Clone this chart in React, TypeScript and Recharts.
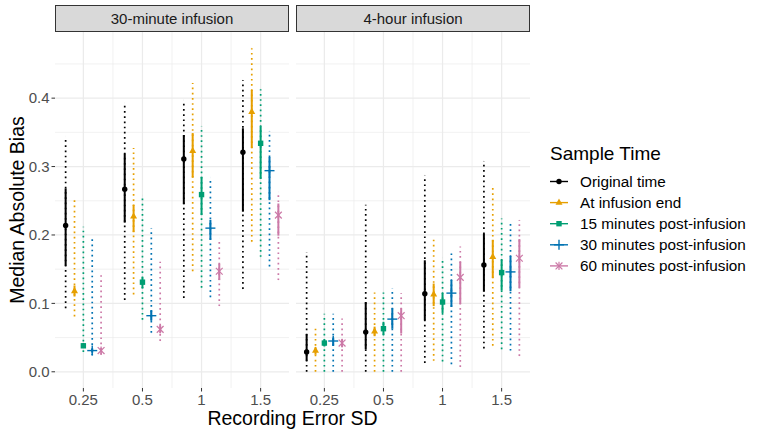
import { ComposedChart, Scatter, ErrorBar, XAxis, YAxis, CartesianGrid } from "recharts";

const sdLabels = ["0.25", "0.5", "1", "1.5"];
const panelTitles = ["30-minute infusion", "4-hour infusion"];
const seriesNames = [
  "Original time",
  "At infusion end",
  "15 minutes post-infusion",
  "30 minutes post-infusion",
  "60 minutes post-infusion",
];
const colors = ["#000000", "#E69F00", "#009E73", "#0072B2", "#CC79A7"];

// 30-minute infusion
const shortMedian = [
  [0.214, 0.267, 0.311, 0.321],
  [0.118, 0.227, 0.323, 0.38],
  [0.038, 0.131, 0.259, 0.334],
  [0.031, 0.082, 0.21, 0.294],
  [0.031, 0.062, 0.147, 0.229],
];
const shortInnerLow = [
  [0.155, 0.218, 0.245, 0.234],
  [0.11, 0.204, 0.284, 0.327],
  [0.035, 0.122, 0.229, 0.282],
  [0.028, 0.075, 0.193, 0.251],
  [0.028, 0.057, 0.134, 0.199],
];
const shortInnerHigh = [
  [0.268, 0.319, 0.346, 0.356],
  [0.126, 0.244, 0.349, 0.412],
  [0.042, 0.138, 0.285, 0.359],
  [0.034, 0.09, 0.222, 0.314],
  [0.034, 0.068, 0.158, 0.246],
];
const shortOuterLow = [
  [0.093, 0.105, 0.108, 0.121],
  [0.081, 0.113, 0.147, 0.19],
  [0.029, 0.076, 0.123, 0.168],
  [0.024, 0.057, 0.109, 0.154],
  [0.025, 0.045, 0.096, 0.134],
];
const shortOuterHigh = [
  [0.344, 0.393, 0.397, 0.426],
  [0.251, 0.327, 0.422, 0.473],
  [0.212, 0.258, 0.359, 0.413],
  [0.194, 0.21, 0.284, 0.352],
  [0.141, 0.161, 0.195, 0.263],
];

// 4-hour infusion
const longMedian = [
  [0.029, 0.058, 0.114, 0.156],
  [0.031, 0.059, 0.113, 0.168],
  [0.042, 0.063, 0.102, 0.145],
  [0.045, 0.077, 0.115, 0.146],
  [0.042, 0.082, 0.138, 0.166],
];
const longInnerLow = [
  [0.016, 0.033, 0.075, 0.117],
  [0.025, 0.052, 0.096, 0.137],
  [0.037, 0.054, 0.086, 0.119],
  [0.038, 0.063, 0.095, 0.118],
  [0.036, 0.056, 0.099, 0.123],
];
const longInnerHigh = [
  [0.055, 0.102, 0.163, 0.202],
  [0.036, 0.066, 0.129, 0.193],
  [0.047, 0.073, 0.115, 0.164],
  [0.05, 0.093, 0.134, 0.169],
  [0.047, 0.093, 0.161, 0.194],
];
const longOuterLow = [
  [0.0, 0.0, 0.013, 0.034],
  [0.0, 0.0, 0.016, 0.038],
  [0.0, 0.0, 0.015, 0.033],
  [0.0, 0.0, 0.011, 0.031],
  [0.0, 0.0, 0.007, 0.023],
];
const longOuterHigh = [
  [0.175, 0.244, 0.287, 0.308],
  [0.063, 0.116, 0.193, 0.273],
  [0.085, 0.116, 0.167, 0.224],
  [0.085, 0.122, 0.173, 0.216],
  [0.078, 0.115, 0.183, 0.222],
];

const yTicks = [0, 0.1, 0.2, 0.3, 0.4];
const yMinor = [0.05, 0.15, 0.25, 0.35, 0.45];

const dodge = [-0.3, -0.15, 0, 0.15, 0.3];
const font = "'Liberation Sans', Arial, Helvetica, sans-serif";
const yDomain = [-0.0237, 0.4967];
const xDomain = [0.52, 4.48];

function rows(med, il, ih, ol, oh, s) {
  return sdLabels.map((_, i) => ({
    x: i + 1 + dodge[s],
    y: med[s][i],
    inner: [med[s][i] - il[s][i], ih[s][i] - med[s][i]],
    outer: [med[s][i] - ol[s][i], oh[s][i] - med[s][i]],
  }));
}

function Marker({ cx, cy, s }) {
  const c = colors[s];
  if (cx == null || cy == null) return null;
  if (s === 0) return <circle cx={cx} cy={cy} r={2.7} fill={c} />;
  if (s === 1)
    return (
      <polygon
        points={`${cx},${cy - 4} ${cx - 3.5},${cy + 2.1} ${cx + 3.5},${cy + 2.1}`}
        fill={c}
      />
    );
  if (s === 2) return <rect x={cx - 2.7} y={cy - 2.7} width={5.4} height={5.4} fill={c} />;
  if (s === 3)
    return (
      <g stroke={c} strokeWidth={1.4}>
        <line x1={cx - 5} x2={cx + 5} y1={cy} y2={cy} />
        <line x1={cx} x2={cx} y1={cy - 5} y2={cy + 5} />
      </g>
    );
  return (
    <g stroke={c} strokeWidth={1.2}>
      <line x1={cx} x2={cx} y1={cy - 4.2} y2={cy + 4.2} />
      <line x1={cx - 3.4} x2={cx + 3.4} y1={cy - 3.4} y2={cy + 3.4} />
      <line x1={cx - 3.4} x2={cx + 3.4} y1={cy + 3.4} y2={cy - 3.4} />
    </g>
  );
}

function Panel({ p, left, width, marginLeft, showY }) {
  const src =
    p === 0
      ? [shortMedian, shortInnerLow, shortInnerHigh, shortOuterLow, shortOuterHigh]
      : [longMedian, longInnerLow, longInnerHigh, longOuterLow, longOuterHigh];
  return (
    <div style={{ position: "absolute", left, top: 0 }}>
      <ComposedChart
        width={width}
        height={436}
        margin={{ top: 32, right: 1, left: marginLeft, bottom: 0 }}
      >
        <CartesianGrid
          horizontalValues={yMinor}
          verticalValues={[1.5, 2.5, 3.5]}
          stroke="#EBEBEB"
          strokeWidth={0.7}
        />
        <CartesianGrid
          horizontalValues={yTicks}
          verticalValues={[1, 2, 3, 4]}
          stroke="#EBEBEB"
          strokeWidth={1.2}
        />
        <XAxis
          type="number"
          dataKey="x"
          domain={xDomain}
          ticks={[1, 2, 3, 4]}
          tickFormatter={(v) => sdLabels[v - 1]}
          allowDataOverflow
          axisLine={false}
          tickLine={{ stroke: "#333333" }}
          tickSize={3.5}
          tickMargin={2.5}
          height={48}
          tick={{ fill: "#4D4D4D", fontSize: 15, fontFamily: font }}
        />
        <YAxis
          type="number"
          dataKey="y"
          domain={yDomain}
          ticks={yTicks}
          allowDataOverflow
          hide={!showY}
          width={55}
          tickFormatter={(v) => v.toFixed(1)}
          axisLine={false}
          tickLine={{ stroke: "#333333" }}
          tickSize={3.5}
          tickMargin={2}
          tick={{ fill: "#4D4D4D", fontSize: 15, fontFamily: font }}
        />
        {seriesNames.map((name, s) => (
          <Scatter
            key={name}
            name={name}
            data={rows(src[0], src[1], src[2], src[3], src[4], s)}
            isAnimationActive={false}
            shape={(props) => <Marker cx={props.cx} cy={props.cy} s={s} />}
          >
            <ErrorBar
              dataKey="outer"
              direction="y"
              width={0}
              stroke={colors[s]}
              strokeWidth={1.7}
              strokeDasharray="1.7 3.5"
              isAnimationActive={false}
            />
            <ErrorBar
              dataKey="inner"
              direction="y"
              width={0}
              stroke={colors[s]}
              strokeWidth={2}
              isAnimationActive={false}
            />
          </Scatter>
        ))}
      </ComposedChart>
    </div>
  );
}

function Strip({ left, title }) {
  return (
    <div
      style={{
        position: "absolute",
        left,
        top: 5,
        width: 234,
        height: 27,
        boxSizing: "border-box",
        background: "#D9D9D9",
        border: "1px solid #333333",
        color: "#1A1A1A",
        fontFamily: font,
        fontSize: 15,
        lineHeight: "25px",
        textAlign: "center",
      }}
    >
      {title}
    </div>
  );
}

function Legend() {
  return (
    <svg
      style={{ position: "absolute", left: 530, top: 130 }}
      width={231}
      height={150}
      fontFamily={font}
    >
      <text x={20} y={30} fontSize={19} fill="#000">
        Sample Time
      </text>
      {seriesNames.map((name, s) => {
        const cy = 51.5 + s * 21.1;
        return (
          <g key={name}>
            <line x1={20} x2={38} y1={cy} y2={cy} stroke={colors[s]} strokeWidth={1.4} />
            <Marker cx={29} cy={cy} s={s} />
            <text x={50} y={cy + 5.3} fontSize={15.3} fill="#000">
              {name}
            </text>
          </g>
        );
      })}
    </svg>
  );
}

export default function App() {
  return (
    <div
      style={{
        position: "absolute",
        left: 0,
        top: 0,
        width: 761,
        height: 436,
        background: "#fff",
        overflow: "hidden",
      }}
    >
      <Panel p={0} left={0} width={290} marginLeft={0} showY />
      <Panel p={1} left={290} width={241} marginLeft={6} showY={false} />
      <Strip left={55} title={panelTitles[0]} />
      <Strip left={296} title={panelTitles[1]} />
      <svg style={{ position: "absolute", left: 0, top: 0 }} width={761} height={436} pointerEvents="none">
        <text
          x={292.5}
          y={425}
          textAnchor="middle"
          fontSize={19.5}
          fontFamily={font}
          fill="#000"
        >
          Recording Error SD
        </text>
        <text
          transform="translate(23.5,210) rotate(-90)"
          textAnchor="middle"
          fontSize={19.5}
          fontFamily={font}
          fill="#000"
        >
          Median Absolute Bias
        </text>
      </svg>
      <Legend />
    </div>
  );
}
